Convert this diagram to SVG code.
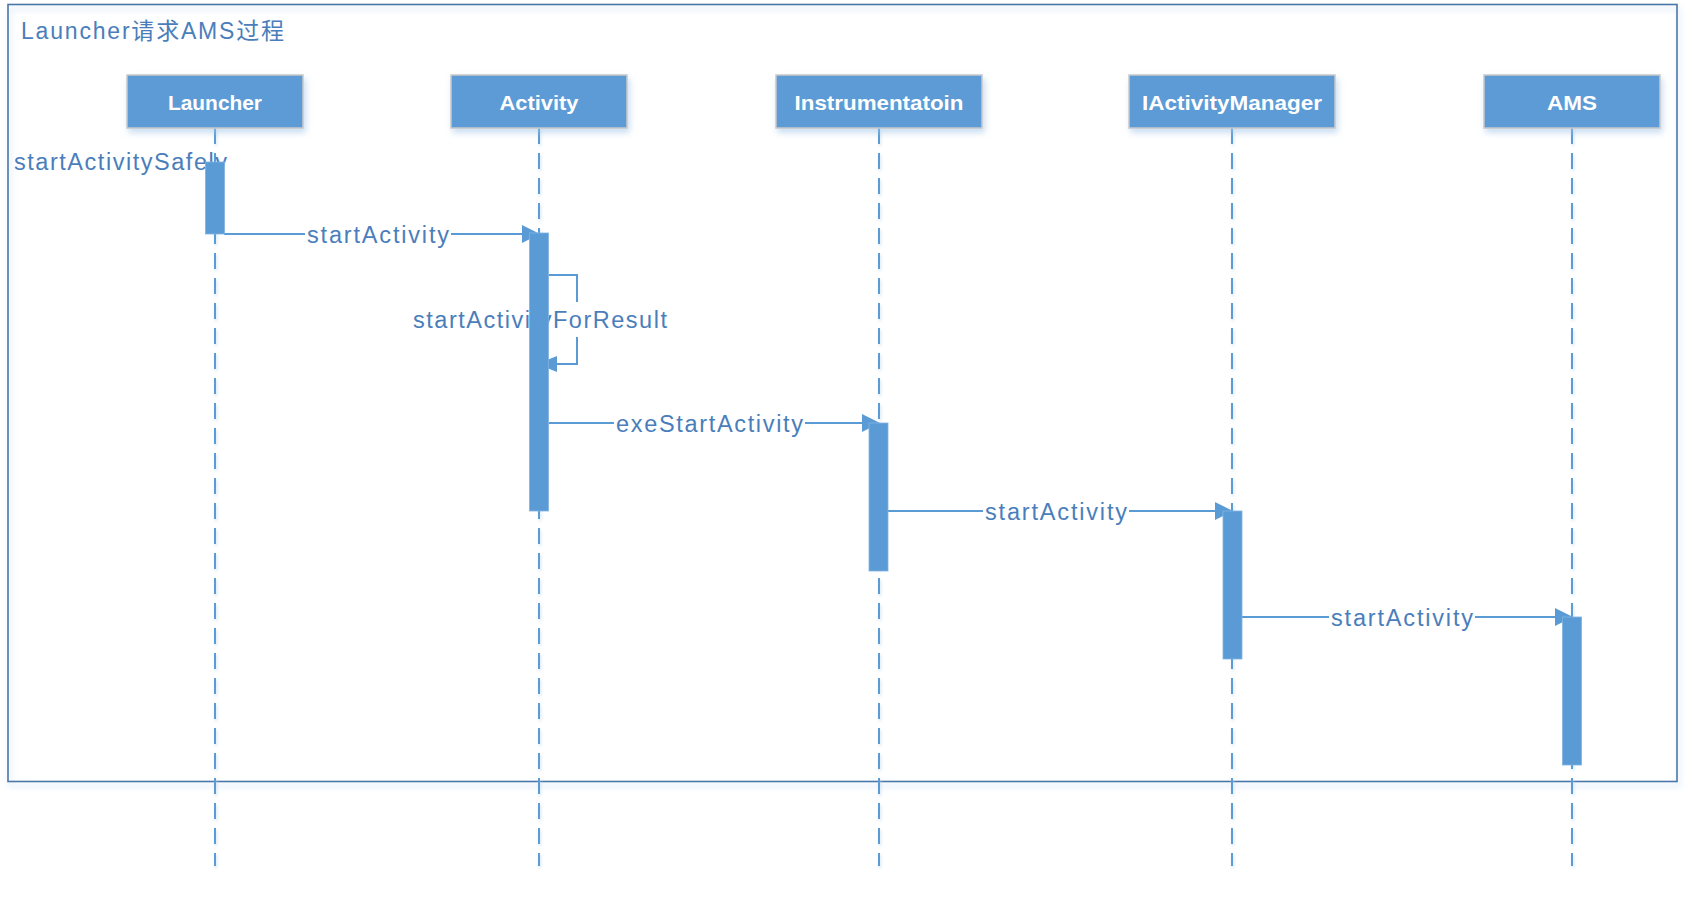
<svg xmlns="http://www.w3.org/2000/svg" width="1687" height="906" viewBox="0 0 1687 906">
  <defs>
    <filter id="shadow" x="-10%" y="-10%" width="120%" height="130%">
      <feDropShadow dx="2" dy="4" stdDeviation="3" flood-color="#9dc3e6" flood-opacity="0.55"/>
    </filter>
    <filter id="glow" x="-50%" y="-5%" width="200%" height="110%">
      <feDropShadow dx="1" dy="2" stdDeviation="1.5" flood-color="#bdd7ee" flood-opacity="0.7"/>
    </filter>
  </defs>
  <style>
    .frame { fill: none; stroke: #4a76a8; stroke-width: 1.6; }
    .title { font-family: "Liberation Sans", "Noto Sans CJK SC", sans-serif; font-size: 23px; fill: #4a7ebb; }
    .head { fill: #5b9bd5; stroke: #c9c9c9; stroke-width: 1.5; }
    .headtxt { font-family: "Liberation Sans", Arial, sans-serif; font-weight: bold; font-size: 21px; fill: #ffffff; text-anchor: middle; }
    .life { stroke: #5b9bd5; stroke-width: 2; stroke-dasharray: 16 9; fill: none; }
    .bar { fill: #5b9bd5; stroke: #7fb2e0; stroke-width: 0.8; }
    .msg { stroke: #5b9bd5; stroke-width: 2; fill: none; }
    .ah { fill: #5b9bd5; }
    .lbl { font-family: "Liberation Sans", Arial, sans-serif; font-size: 23.5px; fill: #4a7ebb; }
    .bg { fill: #ffffff; }
  </style>

  <rect width="1687" height="906" fill="#ffffff"/>

  <g id="frame">
    <rect class="frame" x="8" y="4.5" width="1669" height="777" filter="url(#shadow)"/>
    <text class="title" x="21" y="39" textLength="263" lengthAdjust="spacing">Launcher请求AMS过程</text>
  </g>

  <g id="lifelines" filter="url(#glow)">
    <line class="life" x1="215" y1="128" x2="215" y2="866"/>
    <line class="life" x1="539" y1="128" x2="539" y2="866"/>
    <line class="life" x1="879" y1="128" x2="879" y2="866"/>
    <line class="life" x1="1232" y1="128" x2="1232" y2="866"/>
    <line class="life" x1="1572" y1="128" x2="1572" y2="866"/>
  </g>

  <g id="node-launcher">
    <rect class="head" x="127" y="75" width="176" height="53" filter="url(#shadow)"/>
    <text class="headtxt" x="215" y="110" textLength="94" lengthAdjust="spacingAndGlyphs">Launcher</text>
  </g>
  <g id="node-activity">
    <rect class="head" x="451" y="75" width="176" height="53" filter="url(#shadow)"/>
    <text class="headtxt" x="539" y="110" textLength="79" lengthAdjust="spacingAndGlyphs">Activity</text>
  </g>
  <g id="node-instrumentation">
    <rect class="head" x="776" y="75" width="206" height="53" filter="url(#shadow)"/>
    <text class="headtxt" x="879" y="110" textLength="169" lengthAdjust="spacingAndGlyphs">Instrumentatoin</text>
  </g>
  <g id="node-iactivitymanager">
    <rect class="head" x="1129" y="75" width="206" height="53" filter="url(#shadow)"/>
    <text class="headtxt" x="1232" y="110" textLength="180" lengthAdjust="spacingAndGlyphs">IActivityManager</text>
  </g>
  <g id="node-ams">
    <rect class="head" x="1484" y="75" width="176" height="53" filter="url(#shadow)"/>
    <text class="headtxt" x="1572" y="110" textLength="50" lengthAdjust="spacingAndGlyphs">AMS</text>
  </g>

  <g id="connectors">
    <line class="msg" x1="224" y1="234" x2="528" y2="234"/>
    <polygon class="ah" points="522,225 540,234 522,243"/>
    <rect class="bg" x="305" y="222" width="146" height="26"/>
    <text class="lbl" x="307" y="243" textLength="142" lengthAdjust="spacing">startActivity</text>

    <path class="msg" d="M549,275 H577 V364 H552"/>
    <polygon class="ah" points="557,356 537,364 557,372"/>
    <rect class="bg" x="560" y="302" width="30" height="35"/>
    <text class="lbl" x="413" y="328" textLength="254" lengthAdjust="spacing">startActivityForResult</text>

    <line class="msg" x1="549" y1="423" x2="868" y2="423"/>
    <polygon class="ah" points="862,414 880,423 862,432"/>
    <rect class="bg" x="614" y="411" width="191" height="26"/>
    <text class="lbl" x="616" y="432" textLength="187" lengthAdjust="spacing">exeStartActivity</text>

    <line class="msg" x1="888" y1="511" x2="1222" y2="511"/>
    <polygon class="ah" points="1215,502 1233,511 1215,520"/>
    <rect class="bg" x="983" y="499" width="146" height="26"/>
    <text class="lbl" x="985" y="520" textLength="142" lengthAdjust="spacing">startActivity</text>

    <line class="msg" x1="1242" y1="617" x2="1561" y2="617"/>
    <polygon class="ah" points="1555,608 1573,617 1555,626"/>
    <rect class="bg" x="1329" y="605" width="146" height="26"/>
    <text class="lbl" x="1331" y="626" textLength="142" lengthAdjust="spacing">startActivity</text>

    <text class="lbl" x="14" y="170" textLength="213" lengthAdjust="spacing">startActivitySafely</text>
  </g>

  <g id="activations">
    <rect class="bar" x="205.5" y="162" width="19" height="72"/>
    <rect class="bar" x="529.5" y="233" width="19" height="278"/>
    <rect class="bar" x="869" y="423" width="19" height="148"/>
    <rect class="bar" x="1223" y="511" width="19" height="148"/>
    <rect class="bar" x="1562.5" y="617" width="19" height="148"/>
  </g>
</svg>
